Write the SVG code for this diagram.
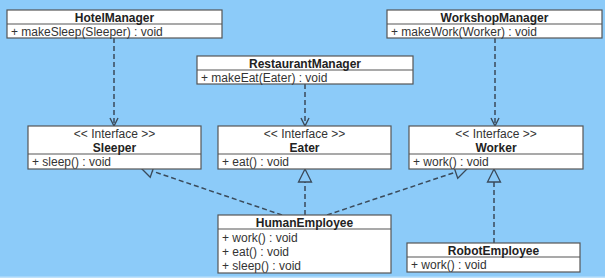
<svg xmlns="http://www.w3.org/2000/svg" width="605" height="278" viewBox="0 0 605 278">
  <style>
    .box { fill: #ffffff; stroke: #555555; stroke-width: 1.2; }
    .sep { stroke: #555555; stroke-width: 1.2; }
    .title { font-family: "Liberation Sans", Arial, sans-serif; font-size: 12px; font-weight: bold; fill: #222222; text-anchor: middle; }
    .stereo { font-family: "Liberation Sans", Arial, sans-serif; font-size: 12px; fill: #333333; text-anchor: middle; }
    .member { font-family: "Liberation Sans", Arial, sans-serif; font-size: 12px; fill: #333333; }
    .dash { fill: none; stroke: #3a4a5a; stroke-width: 1.5; stroke-dasharray: 5 3; }
  </style>
  <defs>
    <marker id="open" viewBox="0 0 10 10" refX="9" refY="5" markerWidth="10" markerHeight="10" markerUnits="userSpaceOnUse" orient="auto">
      <path d="M1 1 L9 5 L1 9" fill="none" stroke="#3a4a5a" stroke-width="1.4"/>
    </marker>
    <marker id="realize" viewBox="0 0 16 16" refX="15" refY="8" markerWidth="16" markerHeight="16" markerUnits="userSpaceOnUse" orient="auto">
      <path d="M15 8 L2 1.5 L2 14.5 Z" fill="#8ccbf9" stroke="#3a4a5a" stroke-width="1.3"/>
    </marker>
  </defs>

  <rect x="0" y="0" width="605" height="278" fill="#8ccbf9"/>
  <rect x="0" y="276.5" width="605" height="1.5" fill="#bfe2fb"/>

  <!-- dependencies and realizations -->
  <g id="connectors">
    <line class="dash" x1="114" y1="38" x2="114" y2="126" marker-end="url(#open)"/>
    <line class="dash" x1="305" y1="84" x2="305" y2="126" marker-end="url(#open)"/>
    <line class="dash" x1="495" y1="38" x2="495" y2="126" marker-end="url(#open)"/>
    <line class="dash" x1="282" y1="215" x2="140" y2="167" marker-end="url(#realize)"/>
    <line class="dash" x1="305" y1="215" x2="305" y2="169" marker-end="url(#realize)"/>
    <line class="dash" x1="327" y1="215" x2="468" y2="168" marker-end="url(#realize)"/>
    <line class="dash" x1="494" y1="243" x2="494" y2="169" marker-end="url(#realize)"/>
  </g>

  <g id="HotelManager">
    <rect class="box" x="7" y="10" width="215" height="28"/>
    <line class="sep" x1="7" y1="24" x2="222" y2="24"/>
    <text class="title" x="114.5" y="21.5">HotelManager</text>
    <text class="member" x="11" y="35.5">+ makeSleep(Sleeper) : void</text>
  </g>

  <g id="RestaurantManager">
    <rect class="box" x="197" y="56" width="216" height="28"/>
    <line class="sep" x1="197" y1="70" x2="413" y2="70"/>
    <text class="title" x="305" y="67.5">RestaurantManager</text>
    <text class="member" x="201" y="81.5">+ makeEat(Eater) : void</text>
  </g>

  <g id="WorkshopManager">
    <rect class="box" x="387" y="10" width="215" height="28"/>
    <line class="sep" x1="387" y1="24" x2="602" y2="24"/>
    <text class="title" x="494.5" y="21.5">WorkshopManager</text>
    <text class="member" x="391" y="35.5">+ makeWork(Worker) : void</text>
  </g>

  <g id="Sleeper">
    <rect class="box" x="28" y="126" width="173" height="43"/>
    <line class="sep" x1="28" y1="154" x2="201" y2="154"/>
    <text class="stereo" x="114.5" y="138">&lt;&lt; Interface &gt;&gt;</text>
    <text class="title" x="114.5" y="151.5">Sleeper</text>
    <text class="member" x="32" y="165.5">+ sleep() : void</text>
  </g>

  <g id="Eater">
    <rect class="box" x="218" y="126" width="173" height="43"/>
    <line class="sep" x1="218" y1="154" x2="391" y2="154"/>
    <text class="stereo" x="304.5" y="138">&lt;&lt; Interface &gt;&gt;</text>
    <text class="title" x="304.5" y="151.5">Eater</text>
    <text class="member" x="222" y="165.5">+ eat() : void</text>
  </g>

  <g id="Worker">
    <rect class="box" x="409" y="126" width="174" height="43"/>
    <line class="sep" x1="409" y1="154" x2="583" y2="154"/>
    <text class="stereo" x="496" y="138">&lt;&lt; Interface &gt;&gt;</text>
    <text class="title" x="496" y="151.5">Worker</text>
    <text class="member" x="413" y="165.5">+ work() : void</text>
  </g>

  <g id="HumanEmployee">
    <rect class="box" x="218" y="215" width="173" height="58"/>
    <line class="sep" x1="218" y1="229" x2="391" y2="229"/>
    <text class="title" x="304.5" y="226.5">HumanEmployee</text>
    <text class="member" x="222" y="241.5">+ work() : void</text>
    <text class="member" x="222" y="255.5">+ eat() : void</text>
    <text class="member" x="222" y="269.5">+ sleep() : void</text>
  </g>

  <g id="RobotEmployee">
    <rect class="box" x="407" y="243" width="173" height="29"/>
    <line class="sep" x1="407" y1="257" x2="580" y2="257"/>
    <text class="title" x="493.5" y="254.5">RobotEmployee</text>
    <text class="member" x="411" y="268.5">+ work() : void</text>
  </g>
</svg>
